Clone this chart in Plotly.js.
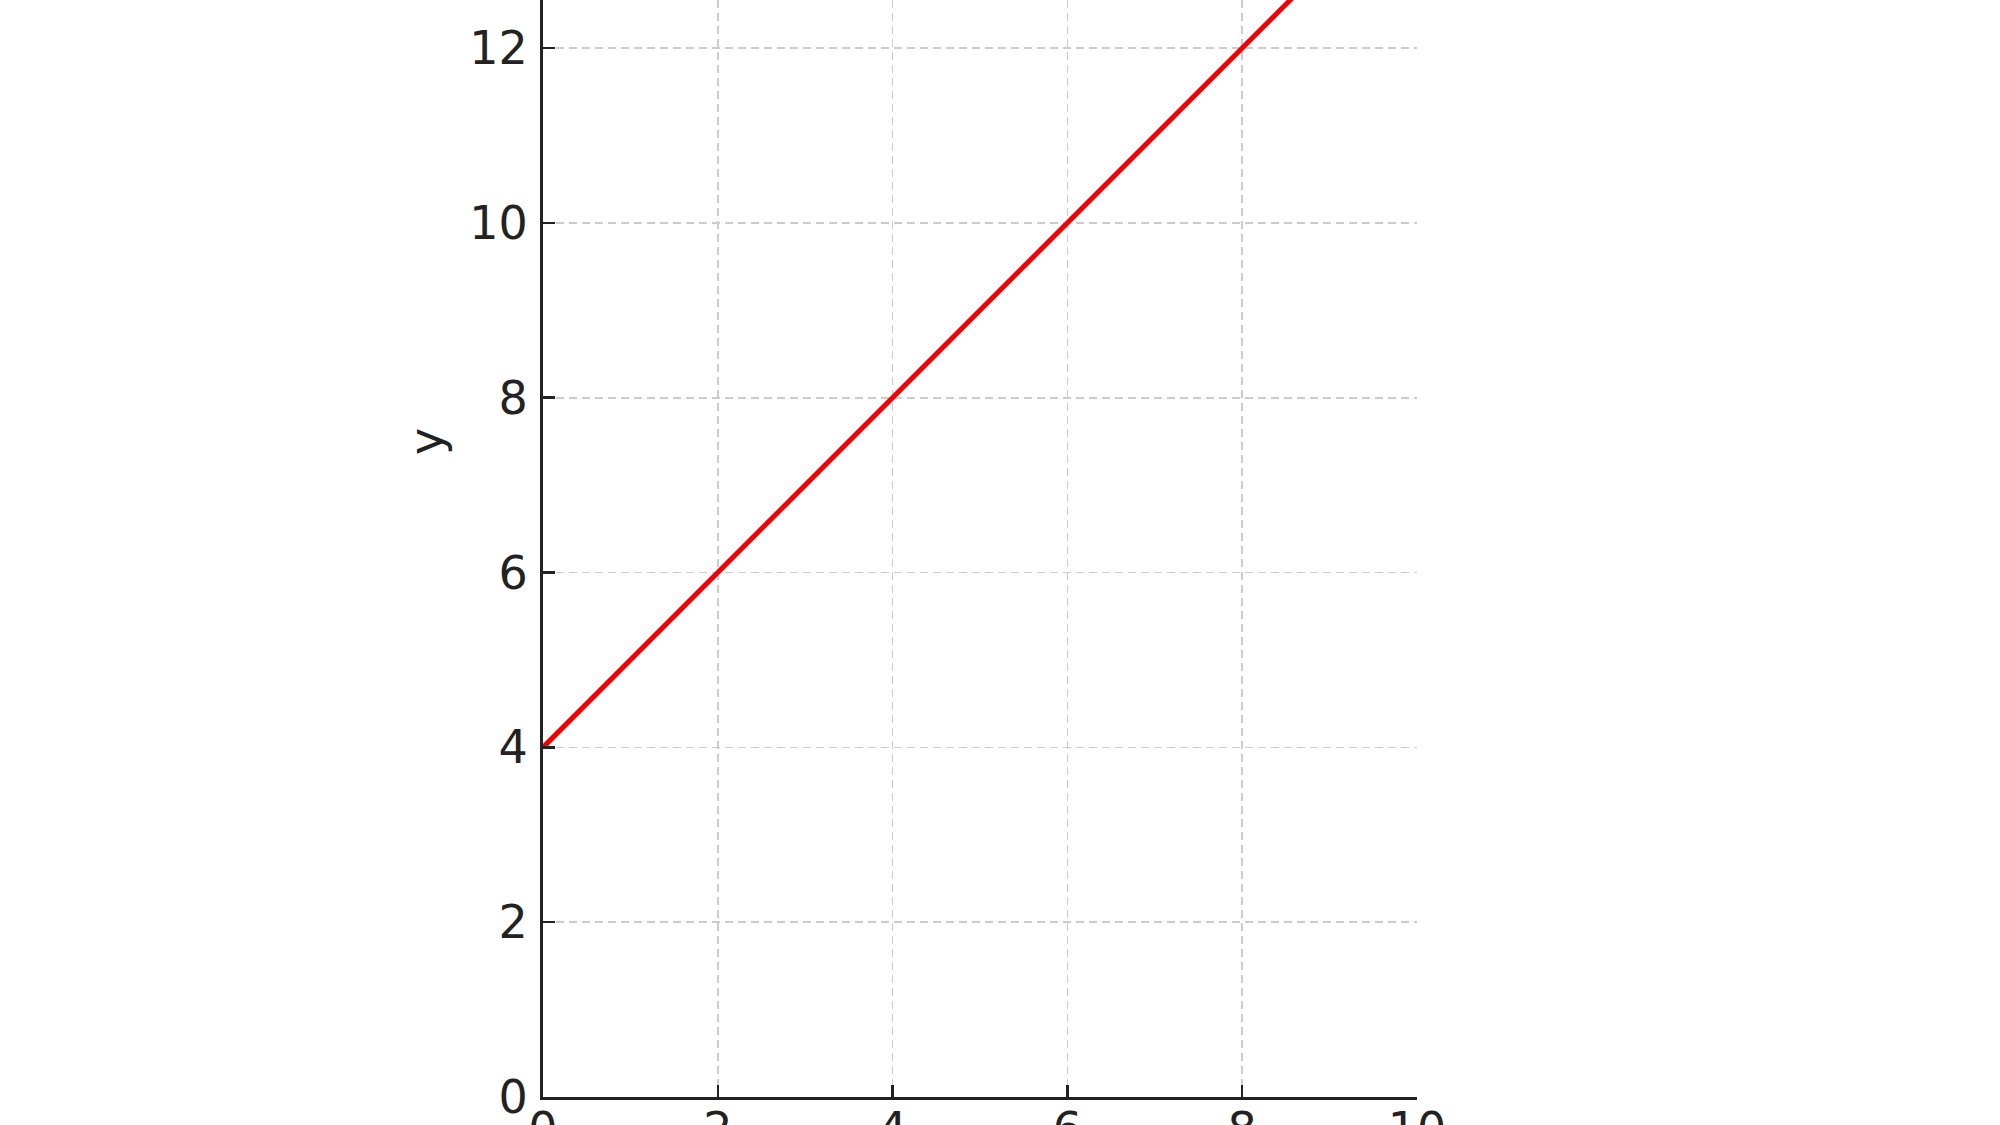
<!DOCTYPE html>
<html>
<head>
<meta charset="utf-8">
<script src="https://cdn.plot.ly/plotly-3.0.1.min.js"></script>
<style>html,body{margin:0;padding:0;background:#fff;}#chart{width:2000px;height:1125px;}</style>
</head>
<body>
<div id="chart"></div>
<script>
const xValues = [0, 2, 4, 6, 8, 10];
const yValues = [4, 6, 8, 10, 12, 14];
const xTicks = [0, 2, 4, 6, 8, 10];
const yTicks = [0, 2, 4, 6, 8, 10, 12];
const yTitle = 'y';

const font = {family: 'DejaVu Sans, sans-serif', size: 46, color: '#222222'};

const trace = {
  x: xValues,
  y: yValues,
  type: 'scatter',
  mode: 'lines',
  line: {color: '#f00000', width: 5},
  hoverinfo: 'skip'
};

const axisCommon = {
  showline: true,
  linecolor: '#222222',
  linewidth: 3,
  ticks: 'inside',
  ticklen: 12,
  tickwidth: 2.5,
  tickcolor: '#222222',
  showgrid: true,
  gridcolor: '#cccccc',
  gridwidth: 1.7,
  griddash: '8px,5px',
  zeroline: false,
  tickfont: font,
  mirror: false
};

const plotL = 543, plotR = 1417, plotT = 0, plotB = 1097;

const layout = {
  width: 2000,
  height: 1125,
  margin: {l: plotL, r: 2000 - plotR, t: plotT, b: 1125 - plotB, pad: 0},
  paper_bgcolor: '#ffffff',
  plot_bgcolor: '#ffffff',
  showlegend: false,
  xaxis: Object.assign({}, axisCommon, {
    range: [0, 10],
    tickvals: xTicks,
    ticktext: xTicks.map(String),
    ticklabelstandoff: -10
  }),
  yaxis: Object.assign({}, axisCommon, {
    range: [0, 12.55],
    tickvals: yTicks,
    ticktext: yTicks.map(String),
    ticklabelstandoff: 3
  }),
  annotations: [{
    text: yTitle,
    xref: 'paper', yref: 'paper',
    x: (426 - plotL) / (plotR - plotL),
    y: (plotB - 442) / (plotB - plotT),
    xanchor: 'center', yanchor: 'middle',
    textangle: -90,
    showarrow: false,
    font: font
  }]
};

Plotly.newPlot('chart', [trace], layout, {displayModeBar: false, staticPlot: true});
</script>
</body>
</html>
